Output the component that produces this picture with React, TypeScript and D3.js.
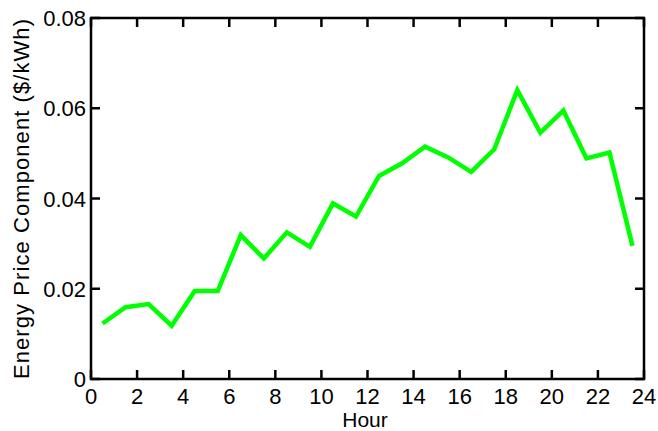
import React from "react";
import * as d3 from "d3";

const hours = [0.5, 1.5, 2.5, 3.5, 4.5, 5.5, 6.5, 7.5, 8.5, 9.5, 10.5, 11.5, 12.5, 13.5, 14.5, 15.5, 16.5, 17.5, 18.5, 19.5, 20.5, 21.5, 22.5, 23.5];
const prices = [0.0123, 0.0159, 0.0166, 0.0118, 0.0195, 0.0195, 0.0319, 0.0267, 0.0325, 0.0293, 0.0389, 0.036, 0.045, 0.0478, 0.0515, 0.0491, 0.0459, 0.0509, 0.064, 0.0546, 0.0595, 0.0489, 0.0502, 0.0295];
const xTicks = [0, 2, 4, 6, 8, 10, 12, 14, 16, 18, 20, 22, 24];
const yTicks = [0, 0.02, 0.04, 0.06, 0.08];
const yTickLabels = ["0", "0.02", "0.04", "0.06", "0.08"];

const W = 658, H = 431;
const L = 91, R = 644, T = 18, B = 379;
const FONT = "'Liberation Sans', Arial, sans-serif";

export default function App() {
  const x = d3.scaleLinear().domain([0, 24]).range([L, R]);
  const y = d3.scaleLinear().domain([0, 0.08]).range([B, T]);
  const line = d3.line<number>().x((_, i) => x(hours[i])).y((d) => y(d));
  const tk = 9;
  return (
    <svg width={W} height={H} style={{ position: "absolute", left: 0, top: 0, background: "#fff" }}>
      <path d={line(prices) || ""} fill="none" stroke="#00ff00" strokeWidth={4.5} strokeLinejoin="miter" />
      {xTicks.map((t) => (
        <g key={"x" + t}>
          <line x1={x(t)} x2={x(t)} y1={B} y2={B - tk} stroke="#000" strokeWidth={2.5} />
          <line x1={x(t)} x2={x(t)} y1={T} y2={T + tk} stroke="#000" strokeWidth={2.5} />
          <text x={x(t)} y={404} textAnchor="middle" fontFamily={FONT} fontSize={22} fill="#000">{t}</text>
        </g>
      ))}
      {yTicks.map((t, i) => (
        <g key={"y" + t}>
          <line x1={L} x2={L + tk} y1={y(t)} y2={y(t)} stroke="#000" strokeWidth={2.5} />
          <line x1={R} x2={R - tk} y1={y(t)} y2={y(t)} stroke="#000" strokeWidth={2.5} />
          <text x={86} y={y(t) + 8} textAnchor="end" fontFamily={FONT} fontSize={22} fill="#000">{yTickLabels[i]}</text>
        </g>
      ))}
      <rect x={L} y={T} width={R - L} height={B - T} fill="none" stroke="#000" strokeWidth={2.5} />
      <text x={365} y={427} textAnchor="middle" fontFamily={FONT} fontSize={21} fill="#000">Hour</text>
      <text transform={`translate(29,199) rotate(-90)`} textAnchor="middle" fontFamily={FONT} fontSize={22} textLength={360} lengthAdjust="spacing" fill="#000">Energy Price Component ($/kWh)</text>
    </svg>
  );
}
